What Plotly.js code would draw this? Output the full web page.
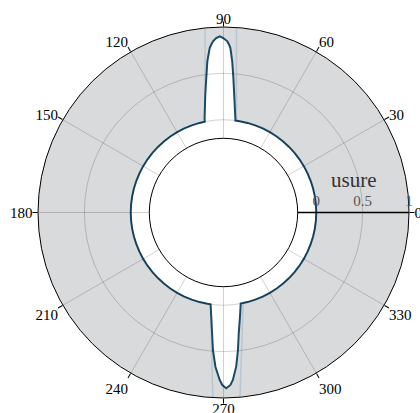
<!DOCTYPE html>
<html>
<head>
<meta charset="utf-8">
<script src="https://cdn.plot.ly/plotly-3.0.1.min.js"></script>
<style>html,body{margin:0;padding:0;background:#fff;}#chart{width:420px;height:413px;}</style>
</head>
<body>
<div id="chart"></div>
<script>
// main wear curve (angle in degrees, wear value)
const thetaMain = [0,5,10,15,20,25,30,35,40,45,50,55,60,65,70,75,80,
  82.6,82.9,84.8,85.8,86.7,87.6,88.1,88.7,90.1,91.2,92.4,93.5,94.2,94.8,96.1,97.3,98.8,101.3,101.7,
  105,110,115,120,125,130,135,140,145,150,155,160,165,170,175,180,185,190,195,200,205,210,215,220,225,230,235,240,245,250,255,260,
  262.0,263.3,264.6,265.6,267.0,268.7,269.6,270.9,272.3,273.2,274.7,276.0,277.2,279.0,280.7,
  285,290,295,300,305,310,315,320,325,330,335,340,345,350,355,360];
const rMain = [0,0,0,0,0,0,0,0,0,0,0,0,0,0,0,0,0,
  0,0.03,0.275,0.454,0.633,0.775,0.81,0.846,0.881,0.9,0.882,0.849,0.813,0.78,0.64,0.462,0.285,0.04,0,
  0,0,0,0,0,0,0,0,0,0,0,0,0,0,0,0,0,0,0,0,0,0,0,0,0,0,0,0,0,0,0,0,
  0,0.131,0.308,0.487,0.665,0.806,0.86,0.895,0.861,0.809,0.668,0.491,0.313,0.137,0,
  0,0,0,0,0,0,0,0,0,0,0,0,0,0,0,0];

// faint envelope lines around the two peaks (null = break)
const thetaEnv = [101.3,97.5,95.7,null,86.0,84.7,82.0,null,262.0,265.1,266.7,null,275.1,277.5,282.3];
const rEnv = [0.017,0.522,1.0,null,1.0,0.516,0.007,null,0,0.488,1.0,null,1.0,0.495,0];

const angTicks = [0,30,60,90,120,150,180,210,240,270,300,330];
const angLabels = ['0','30','60','90','120','150','180','210','240','270','300','330'];
const radTicks = [0,0.5,1];
const radLabels = ['0','0.5','1'];
const radialTitle = 'usure';

const serif = 'Liberation Serif, Times New Roman, serif';
const gridCol = 'rgba(0,0,0,0.18)';
const fullDomain = {x: [0, 1], y: [0, 1]};

// labels at the top/bottom sit closer to the rim than the others
const verticalAngles = [90, 270];
const labelsVertical = angLabels.map((t, i) => verticalAngles.includes(angTicks[i]) ? t : '');
const labelsOther = angLabels.map((t, i) => verticalAngles.includes(angTicks[i]) ? '' : t);

const hiddenRadial = {
  range: [-0.2, 1], angle: 0,
  tickmode: 'array', tickvals: radTicks,
  showticklabels: false, ticks: '', showline: false, showgrid: false
};

const traces = [
  {
    type: 'scatterpolar', mode: 'lines', subplot: 'polar',
    theta: thetaEnv, r: rEnv, connectgaps: false,
    line: {color: 'rgba(60,120,160,0.2)', width: 1.5},
    hoverinfo: 'skip', showlegend: false
  },
  {
    type: 'scatterpolar', mode: 'lines', subplot: 'polar',
    theta: thetaMain, r: rMain,
    fill: 'toself', fillcolor: '#ffffff',
    line: {color: '#1b4a68', width: 2},
    showlegend: false
  },
  {
    type: 'scatterpolar', mode: 'lines', subplot: 'polar2',
    theta: [], r: [], showlegend: false, hoverinfo: 'skip'
  },
  {
    type: 'scatterpolar', mode: 'lines', subplot: 'polar3',
    theta: [], r: [], showlegend: false, hoverinfo: 'skip'
  }
];

const layout = {
  width: 420, height: 413,
  margin: {l: 38, r: 11, t: 27, b: 15},
  paper_bgcolor: '#ffffff',
  font: {family: serif, size: 15, color: '#000'},
  showlegend: false,
  // base subplot: background, traces, top/bottom angular labels
  polar: {
    domain: fullDomain,
    bgcolor: '#d9dadc',
    hole: 0.4,
    radialaxis: hiddenRadial,
    angularaxis: {
      direction: 'counterclockwise', rotation: 0,
      tickmode: 'array', tickvals: angTicks, ticktext: labelsVertical,
      ticks: '', showline: false, showgrid: false,
      tickfont: {family: serif, size: 15, color: '#000'}
    }
  },
  // overlay subplot: grid drawn above the white fill, axis lines, ticks, radial labels
  polar2: {
    domain: fullDomain,
    bgcolor: 'rgba(0,0,0,0)',
    hole: 0.4,
    radialaxis: {
      range: [-0.2, 1], angle: 0, tickangle: 0,
      side: 'counterclockwise',
      tickmode: 'array', tickvals: radTicks, ticktext: radLabels,
      ticks: '',
      showline: true, linecolor: '#000', linewidth: 1.3,
      gridcolor: gridCol, gridwidth: 1,
      tickfont: {family: serif, size: 15, color: '#555'}
    },
    angularaxis: {
      direction: 'counterclockwise', rotation: 0,
      tickmode: 'array', tickvals: angTicks, ticktext: angLabels,
      showticklabels: false,
      ticks: 'outside', ticklen: 5, tickcolor: '#000',
      showline: true, linecolor: '#000', linewidth: 1,
      gridcolor: gridCol, gridwidth: 1
    }
  },
  // overlay subplot: remaining angular labels, a little further out
  polar3: {
    domain: fullDomain,
    bgcolor: 'rgba(0,0,0,0)',
    hole: 0.4,
    radialaxis: hiddenRadial,
    angularaxis: {
      direction: 'counterclockwise', rotation: 0,
      tickmode: 'array', tickvals: angTicks, ticktext: labelsOther,
      ticks: 'outside', ticklen: 2, tickcolor: 'rgba(0,0,0,0)',
      showline: false, showgrid: false,
      tickfont: {family: serif, size: 15, color: '#000'}
    }
  },
  annotations: [{
    text: radialTitle, xref: 'paper', yref: 'paper',
    x: 0.852, y: 0.588, xanchor: 'center', yanchor: 'middle',
    showarrow: false, font: {family: serif, size: 21, color: '#333'}
  }]
};

Plotly.newPlot('chart', traces, layout, {staticPlot: true, displayModeBar: false});
</script>
</body>
</html>
